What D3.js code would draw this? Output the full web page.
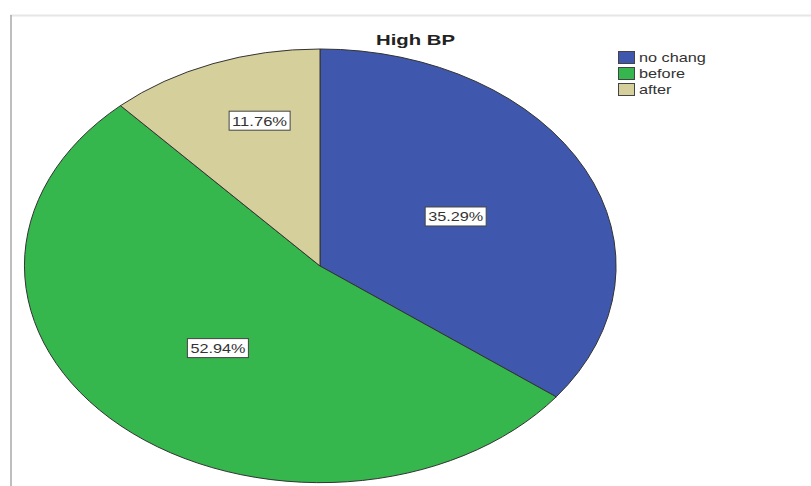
<!DOCTYPE html>
<html><head><meta charset="utf-8">
<script src="https://cdn.jsdelivr.net/npm/d3@7/dist/d3.min.js"></script>
<style>body{margin:0;background:#fff;}svg{display:block;}</style>
</head><body>
<svg id="c" width="811" height="486"></svg>
<script>
const title = "High BP";
const categories = ["no chang", "before", "after"];
const counts = [6, 9, 2];
const percentLabels = ["35.29%", "52.94%", "11.76%"];
const colors = ["#3F58AD", "#36B74E", "#D5CF9B"];

const svg = d3.select("#c");
const W = 811, H = 486;

// frame
svg.append("line").attr("x1",10).attr("x2",W).attr("y1",15.5).attr("y2",15.5).attr("stroke","#e6e6e6").attr("stroke-width",2);
svg.append("line").attr("x1",11).attr("x2",11).attr("y1",15).attr("y2",H).attr("stroke","#a8a8a8").attr("stroke-width",1.5);

const cx = 320, cy = 266, rx = 296, ry = 217;

const pie = d3.pie().sort(null).value(d => d)(counts);
const arc = d3.arc().innerRadius(0).outerRadius(1);

const g = svg.append("g").attr("transform", `translate(${cx},${cy}) scale(${rx},${ry})`);
g.selectAll("path").data(pie).join("path")
  .attr("d", arc)
  .attr("fill", (d,i) => colors[i])
  .attr("stroke", "#333")
  .attr("stroke-width", 1)
  .attr("vector-effect", "non-scaling-stroke");

// labels
const labelG = svg.append("g").attr("transform", `translate(${cx},${cy})`);
pie.forEach((d, i) => {
  const frac = (d.endAngle - d.startAngle) / (2*Math.PI);
  const small = frac < 0.2;
  const a = small ? d.startAngle + 0.6*(d.endAngle - d.startAngle) : (d.startAngle + d.endAngle) / 2;
  const r = small ? 0.7 : 0.512;
  const x = rx * r * Math.sin(a);
  const y = -ry * r * Math.cos(a);
  const lg = labelG.append("g").attr("transform", `translate(${x},${y})`);
  lg.append("rect").attr("x",-30.5).attr("y",-9.5).attr("width",61).attr("height",19)
    .attr("fill","#fff").attr("stroke","#444").attr("stroke-width",1);
  lg.append("text").attr("x",0).attr("y",5).attr("text-anchor","middle")
    .attr("font-family","Liberation Sans, Arial, sans-serif").attr("font-size",13.5)
    .attr("fill","#333")
    .attr("textLength",55).attr("lengthAdjust","spacingAndGlyphs")
    .text(percentLabels[i]);
});

// title
svg.append("text").attr("x",415.5).attr("y",45).attr("text-anchor","middle")
  .attr("font-family","Liberation Sans, Arial, sans-serif").attr("font-size",15.5).attr("font-weight","bold")
  .attr("fill","#222").attr("textLength",79).attr("lengthAdjust","spacingAndGlyphs")
  .text(title);

// legend
const leg = svg.append("g").attr("transform","translate(618,51)");
categories.forEach((c, i) => {
  const row = leg.append("g").attr("transform", `translate(0,${i*16})`);
  row.append("rect").attr("x",0.5).attr("y",0.5).attr("width",16).attr("height",12)
    .attr("fill",colors[i]).attr("stroke","#444").attr("stroke-width",1);
  const t = row.append("text").attr("x",21).attr("y",11).attr("font-family","Liberation Sans, Arial, sans-serif")
    .attr("font-size",13).attr("fill","#333")
    .text(c);
  const w = t.node().getComputedTextLength();
  t.attr("textLength", w * 1.25).attr("lengthAdjust","spacingAndGlyphs");
});
</script>
</body></html>
